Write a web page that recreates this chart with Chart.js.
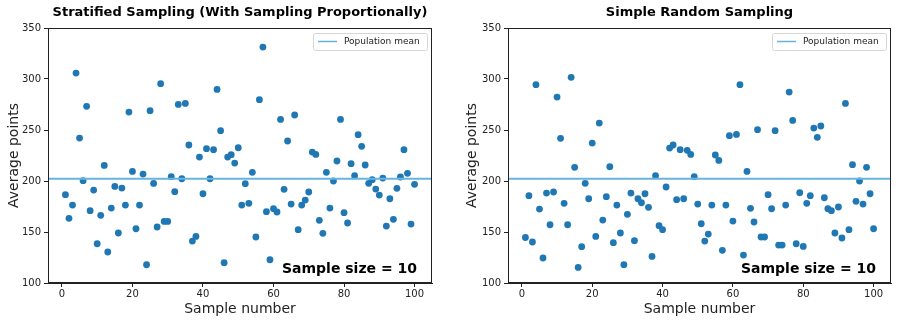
<!DOCTYPE html>
<html>
<head>
<meta charset="utf-8">
<script src="https://cdn.jsdelivr.net/npm/chart.js@4.4.1/dist/chart.umd.min.js"></script>
<style>
  html, body { margin: 0; padding: 0; background: #fff; }
  .panel { position: absolute; top: 0; width: 450px; height: 323px; }
</style>
</head>
<body>
<div class="panel" style="left:0"><canvas id="stratChart" width="450" height="323"></canvas></div>
<div class="panel" style="left:450px"><canvas id="randomChart" width="450" height="323"></canvas></div>
<script>
// sample numbers (x) and average points per sample (y)
const sampleNumbers = [
  1,2,3,4,5,6,7,8,9,10,11,12,13,14,15,16,17,18,19,20,
  21,22,23,24,25,26,27,28,29,30,31,32,33,34,35,36,37,38,39,40,
  41,42,43,44,45,46,47,48,49,50,51,52,53,54,55,56,57,58,59,60,
  61,62,63,64,65,66,67,68,69,70,71,72,73,74,75,76,77,78,79,80,
  81,82,83,84,85,86,87,88,89,90,91,92,93,94,95,96,97,98,99,100
];

const stratifiedMeans = [
  186.6,163.4,176.4,305.8,242.1,200.3,273.2,170.9,191.1,138.5,
  166.3,215.3,130.4,173.5,194.7,149.0,193.1,176.4,267.6,209.4,
  153.2,176.4,206.8,117.9,268.9,197.6,154.9,295.4,160.4,160.4,
  204.2,189.5,275.1,202.2,276.1,235.3,141.1,145.7,223.5,187.5,
  231.7,202.2,230.7,289.8,249.3,119.9,223.5,225.8,217.6,232.6,
  176.4,197.4,178.1,208.5,145.1,279.7,331.3,169.9,122.8,172.8,
  169.6,260.4,191.8,239.2,177.4,264.7,152.3,176.4,181.3,189.2,
  228.4,226.1,161.4,148.7,208.5,173.5,200.0,219.6,260.4,168.9,
  158.8,217.0,205.2,245.4,234.0,215.7,197.7,201.3,192.1,186.2,
  202.9,155.8,182.6,162.4,192.8,203.9,230.7,207.5,157.8,196.7
];

const randomMeans = [
  144.6,185.6,140.2,294.4,172.5,124.5,188.2,157.1,189.2,282.3,
  241.8,178.1,157.1,301.6,213.4,115.3,135.6,197.7,182.6,237.2,
  145.7,256.8,161.7,184.6,214.0,139.5,176.4,149.0,118.0,167.3,
  188.2,141.5,182.6,178.7,187.5,174.2,126.1,205.2,156.2,152.3,
  194.1,232.3,235.3,181.7,230.7,182.6,230.1,226.1,204.2,177.4,
  158.1,141.1,148.0,176.4,225.5,220.2,132.0,176.4,244.4,160.7,
  245.7,294.4,127.4,209.4,173.2,159.8,250.3,145.1,145.1,186.6,
  172.8,249.3,137.2,137.2,176.4,287.2,259.4,138.5,188.5,135.9,
  178.1,185.6,251.9,242.8,253.9,183.6,172.8,170.9,149.0,174.5,
  144.1,276.1,152.3,216.0,180.1,200.0,177.4,213.4,187.5,153.2
];

const populationMean = 202.3;
const xTicks = [0, 20, 40, 60, 80, 100];
const yTicks = [100, 150, 200, 250, 300, 350];
const xRange = [-3.95, 104.95];
const yRange = [100, 350];
const sampleSizeText = 'Sample size = 10';

const FONT = "'DejaVu Sans', sans-serif";
const INK = '#222';
const DOT = '#1f77b4';
const MEAN_LINE = '#67b4e0';

// title over the plot box, box around the plot, "Sample size" note, legend (matplotlib style)
const decorPlugin = {
    id: 'decor',
    afterDraw(chart, args, opts) {
        const { ctx, chartArea: a } = chart;
        ctx.save();
        ctx.strokeStyle = INK;
        ctx.lineWidth = 1;
        ctx.strokeRect(a.left + 0.5, a.top + 0.5, a.right - a.left - 1, a.bottom - a.top - 1);

        ctx.fillStyle = '#000';
        ctx.font = `bold 13px ${FONT}`;
        ctx.textAlign = 'center';
        ctx.textBaseline = 'middle';
        ctx.fillText(opts.title, (a.left + a.right) / 2, 12.5);

        ctx.font = `bold 14px ${FONT}`;
        ctx.textAlign = 'right';
        ctx.fillText(sampleSizeText, a.right - 15, a.bottom - 14);

        // legend
        const meanSet = chart.data.datasets[0];
        const bx = a.right - 119, by = a.top + 5, bw = 114, bh = 17;
        ctx.fillStyle = 'rgba(255,255,255,0.8)';
        ctx.strokeStyle = '#d6d6d6';
        ctx.beginPath();
        ctx.roundRect(bx + 0.5, by + 0.5, bw, bh, 2);
        ctx.fill();
        ctx.stroke();
        ctx.strokeStyle = meanSet.borderColor;
        ctx.lineWidth = 1.5;
        ctx.beginPath();
        ctx.moveTo(bx + 5, by + 8.5);
        ctx.lineTo(bx + 24, by + 8.5);
        ctx.stroke();
        ctx.fillStyle = INK;
        ctx.font = `9px ${FONT}`;
        ctx.textAlign = 'left';
        ctx.fillText(meanSet.label, bx + 31, by + 9);
        ctx.restore();
    }
};

function buildScatter(canvasId, title, values, yAxisWidth, yTitlePad, padRight) {
    const ctx = document.getElementById(canvasId).getContext('2d');
    const points = sampleNumbers.map((n, i) => ({ x: n, y: values[i] }));
    new Chart(ctx, {
        type: 'scatter',
        data: {
            datasets: [
                {
                    type: 'line',
                    label: 'Population mean',
                    data: [{ x: xRange[0], y: populationMean }, { x: xRange[1], y: populationMean }],
                    borderColor: MEAN_LINE,
                    borderWidth: 2,
                    pointRadius: 0,
                    order: 0
                },
                {
                    label: 'Samples',
                    data: points,
                    backgroundColor: DOT,
                    borderWidth: 0,
                    pointRadius: 3.4,
                    order: 1
                }
            ]
        },
        options: {
            responsive: false,
            animation: false,
            events: [],
            layout: { padding: { left: 0, right: padRight, top: 28, bottom: 0 } },
            scales: {
                x: {
                    type: 'linear',
                    min: xRange[0],
                    max: xRange[1],
                    afterBuildTicks: s => { s.ticks = xTicks.map(v => ({ value: v })); },
                    afterFit: s => { s.height = 40; },
                    grid: { drawOnChartArea: false, drawTicks: true, tickLength: 4, color: INK },
                    border: { display: true, color: INK },
                    ticks: { color: INK, font: { family: FONT, size: 10 }, padding: 1, maxRotation: 0 },
                    title: { display: true, text: 'Sample number', color: INK,
                             font: { family: FONT, size: 14 }, padding: { top: 0, bottom: 5 } }
                },
                y: {
                    min: yRange[0],
                    max: yRange[1],
                    afterBuildTicks: s => { s.ticks = yTicks.map(v => ({ value: v })); },
                    afterFit: s => { s.width = yAxisWidth; },
                    grid: { drawOnChartArea: false, drawTicks: true, tickLength: 4, color: INK },
                    border: { display: true, color: INK },
                    ticks: { color: INK, font: { family: FONT, size: 10 }, padding: 3 },
                    title: { display: true, text: 'Average points', color: INK,
                             font: { family: FONT, size: 14 }, padding: { top: yTitlePad, bottom: 0 } }
                }
            },
            plugins: {
                legend: { display: false },
                tooltip: { enabled: false },
                title: { display: false },
                decor: { title: title }
            }
        },
        plugins: [decorPlugin]
    });
}

buildScatter('stratChart', 'Stratified Sampling (With Sampling Proportionally)', stratifiedMeans, 48, 5.5, 18);
buildScatter('randomChart', 'Simple Random Sampling', randomMeans, 58, 13.5, 9);
</script>
</body>
</html>
